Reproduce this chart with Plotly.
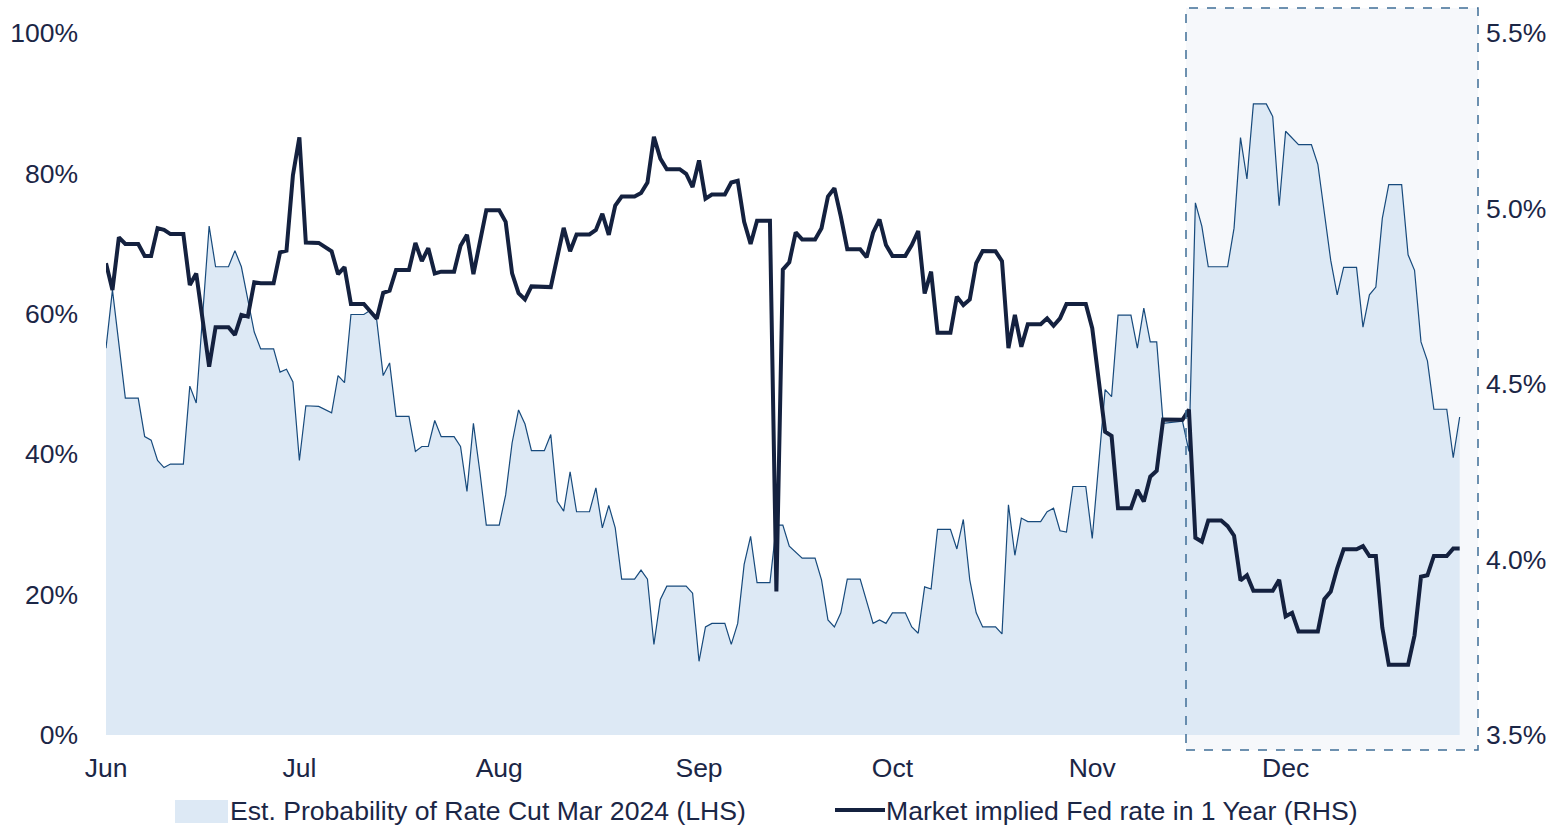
import plotly.graph_objects as go

# Est. probability of a rate cut by March 2024 (left axis, %)
prob_dates = [
    "2023-06-01", "2023-06-02", "2023-06-04", "2023-06-06", "2023-06-07", "2023-06-08", "2023-06-09",
    "2023-06-10", "2023-06-11", "2023-06-13", "2023-06-14", "2023-06-15", "2023-06-17", "2023-06-18",
    "2023-06-20", "2023-06-21", "2023-06-22", "2023-06-24", "2023-06-25", "2023-06-27", "2023-06-28",
    "2023-06-29", "2023-06-30", "2023-07-01", "2023-07-02", "2023-07-04", "2023-07-06", "2023-07-07",
    "2023-07-08", "2023-07-09", "2023-07-11", "2023-07-12", "2023-07-13", "2023-07-14", "2023-07-15",
    "2023-07-16", "2023-07-18", "2023-07-19", "2023-07-20", "2023-07-21", "2023-07-22", "2023-07-23",
    "2023-07-25", "2023-07-26", "2023-07-27", "2023-07-28", "2023-07-29", "2023-07-30", "2023-08-01",
    "2023-08-02", "2023-08-03", "2023-08-04", "2023-08-05", "2023-08-06", "2023-08-08", "2023-08-09",
    "2023-08-10", "2023-08-11", "2023-08-12", "2023-08-13", "2023-08-15", "2023-08-16", "2023-08-17",
    "2023-08-18", "2023-08-19", "2023-08-20", "2023-08-22", "2023-08-23", "2023-08-24", "2023-08-25",
    "2023-08-26", "2023-08-27", "2023-08-30", "2023-08-31", "2023-09-01", "2023-09-02", "2023-09-03",
    "2023-09-05", "2023-09-06", "2023-09-07", "2023-09-08", "2023-09-09", "2023-09-10", "2023-09-12",
    "2023-09-13", "2023-09-14", "2023-09-15", "2023-09-16", "2023-09-17", "2023-09-19", "2023-09-20",
    "2023-09-21", "2023-09-22", "2023-09-23", "2023-09-24", "2023-09-26", "2023-09-27", "2023-09-28",
    "2023-09-29", "2023-09-30", "2023-10-01", "2023-10-03", "2023-10-04", "2023-10-05", "2023-10-06",
    "2023-10-07", "2023-10-08", "2023-10-10", "2023-10-11", "2023-10-12", "2023-10-13", "2023-10-14",
    "2023-10-15", "2023-10-17", "2023-10-18", "2023-10-19", "2023-10-20", "2023-10-21", "2023-10-22",
    "2023-10-24", "2023-10-25", "2023-10-26", "2023-10-27", "2023-10-28", "2023-10-29", "2023-10-31",
    "2023-11-01", "2023-11-03", "2023-11-04", "2023-11-05", "2023-11-07", "2023-11-08", "2023-11-09",
    "2023-11-10", "2023-11-11", "2023-11-12", "2023-11-15", "2023-11-16", "2023-11-17", "2023-11-18",
    "2023-11-19", "2023-11-22", "2023-11-23", "2023-11-24", "2023-11-25", "2023-11-26", "2023-11-28",
    "2023-11-29", "2023-11-30", "2023-12-01", "2023-12-03", "2023-12-05", "2023-12-06", "2023-12-07",
    "2023-12-08", "2023-12-09", "2023-12-10", "2023-12-12", "2023-12-13", "2023-12-14", "2023-12-15",
    "2023-12-16", "2023-12-17", "2023-12-19", "2023-12-20", "2023-12-21", "2023-12-22", "2023-12-23",
    "2023-12-24", "2023-12-26", "2023-12-27", "2023-12-28",
]
prob_values = [
    55.1, 63.4, 48.0, 48.0, 42.5, 42.0, 39.1,
    38.1, 38.6, 38.6, 49.7, 47.3, 72.5, 66.7,
    66.7, 69.0, 66.7, 57.4, 55.0, 55.0, 51.7,
    52.1, 50.3, 39.1, 46.9, 46.8, 45.9, 51.2,
    50.2, 59.9, 59.9, 60.5, 59.1, 51.2, 53.0,
    45.4, 45.4, 40.4, 41.1, 41.1, 44.8, 42.5,
    42.5, 41.1, 34.7, 44.4, 37.5, 29.9, 29.9,
    34.2, 41.6, 46.3, 44.3, 40.5, 40.5, 42.8,
    33.3, 31.9, 37.5, 31.8, 31.8, 35.2, 29.5,
    32.7, 29.5, 22.2, 22.2, 23.5, 22.2, 12.9,
    19.3, 21.2, 21.2, 20.2, 10.5, 15.4, 15.9,
    15.9, 12.9, 15.9, 24.3, 28.3, 21.7, 21.7,
    29.9, 29.9, 26.9, 26.0, 25.2, 25.2, 22.1,
    16.4, 15.4, 17.4, 22.2, 22.2, 19.0, 15.9,
    16.4, 15.9, 17.4, 17.4, 15.4, 14.5, 21.1,
    20.8, 29.3, 29.3, 26.5, 30.7, 22.1, 17.4,
    15.4, 15.4, 14.4, 32.8, 25.6, 30.9, 30.4,
    30.4, 31.8, 32.3, 29.1, 28.9, 35.4, 35.4,
    28.0, 49.2, 48.2, 59.8, 59.8, 55.1, 60.8,
    56.0, 56.0, 44.4, 44.7, 40.4, 75.8, 72.5,
    66.7, 66.7, 72.2, 85.1, 79.2, 89.9, 89.9,
    88.1, 75.4, 86.0, 84.1, 84.1, 81.3, 74.4,
    67.6, 62.7, 66.6, 66.6, 58.1, 62.7, 63.8,
    73.6, 78.4, 78.4, 68.4, 66.2, 56.0, 53.3,
    46.4, 46.4, 39.5, 45.3,
]

# Market implied Fed funds rate in one year (right axis, %)
rate_dates = [
    "2023-06-01", "2023-06-02", "2023-06-03", "2023-06-04", "2023-06-06", "2023-06-07", "2023-06-08",
    "2023-06-09", "2023-06-10", "2023-06-11", "2023-06-13", "2023-06-14", "2023-06-15", "2023-06-17",
    "2023-06-18", "2023-06-20", "2023-06-21", "2023-06-22", "2023-06-23", "2023-06-24", "2023-06-25",
    "2023-06-27", "2023-06-28", "2023-06-29", "2023-06-30", "2023-07-01", "2023-07-02", "2023-07-04",
    "2023-07-06", "2023-07-07", "2023-07-08", "2023-07-09", "2023-07-11", "2023-07-12", "2023-07-13",
    "2023-07-14", "2023-07-15", "2023-07-16", "2023-07-18", "2023-07-19", "2023-07-20", "2023-07-21",
    "2023-07-22", "2023-07-23", "2023-07-25", "2023-07-26", "2023-07-27", "2023-07-28", "2023-07-29",
    "2023-07-30", "2023-08-01", "2023-08-02", "2023-08-03", "2023-08-04", "2023-08-05", "2023-08-06",
    "2023-08-09", "2023-08-10", "2023-08-11", "2023-08-12", "2023-08-13", "2023-08-15", "2023-08-16",
    "2023-08-17", "2023-08-18", "2023-08-19", "2023-08-20", "2023-08-22", "2023-08-23", "2023-08-24",
    "2023-08-25", "2023-08-26", "2023-08-27", "2023-08-29", "2023-08-30", "2023-08-31", "2023-09-01",
    "2023-09-02", "2023-09-03", "2023-09-05", "2023-09-06", "2023-09-07", "2023-09-08", "2023-09-09",
    "2023-09-10", "2023-09-12", "2023-09-13", "2023-09-14", "2023-09-15", "2023-09-16", "2023-09-17",
    "2023-09-19", "2023-09-20", "2023-09-21", "2023-09-22", "2023-09-23", "2023-09-24", "2023-09-26",
    "2023-09-27", "2023-09-28", "2023-09-29", "2023-09-30", "2023-10-01", "2023-10-03", "2023-10-04",
    "2023-10-05", "2023-10-06", "2023-10-07", "2023-10-08", "2023-10-10", "2023-10-11", "2023-10-12",
    "2023-10-13", "2023-10-14", "2023-10-15", "2023-10-17", "2023-10-18", "2023-10-19", "2023-10-20",
    "2023-10-21", "2023-10-22", "2023-10-24", "2023-10-25", "2023-10-26", "2023-10-27", "2023-10-28",
    "2023-10-31", "2023-11-01", "2023-11-03", "2023-11-04", "2023-11-05", "2023-11-07", "2023-11-08",
    "2023-11-09", "2023-11-10", "2023-11-11", "2023-11-12", "2023-11-15", "2023-11-16", "2023-11-17",
    "2023-11-18", "2023-11-19", "2023-11-21", "2023-11-22", "2023-11-23", "2023-11-24", "2023-11-25",
    "2023-11-26", "2023-11-29", "2023-11-30", "2023-12-01", "2023-12-02", "2023-12-03", "2023-12-06",
    "2023-12-07", "2023-12-08", "2023-12-09", "2023-12-10", "2023-12-12", "2023-12-13", "2023-12-14",
    "2023-12-15", "2023-12-16", "2023-12-17", "2023-12-20", "2023-12-21", "2023-12-22", "2023-12-23",
    "2023-12-24", "2023-12-26", "2023-12-27", "2023-12-28",
]
rate_values = [
    4.844, 4.768, 4.918, 4.899, 4.899, 4.865, 4.865,
    4.944, 4.939, 4.927, 4.927, 4.782, 4.815, 4.549,
    4.662, 4.662, 4.640, 4.697, 4.692, 4.790, 4.787,
    4.787, 4.875, 4.880, 5.095, 5.203, 4.903, 4.902,
    4.878, 4.813, 4.833, 4.728, 4.728, 4.708, 4.686,
    4.760, 4.766, 4.825, 4.825, 4.902, 4.850, 4.887,
    4.815, 4.820, 4.820, 4.894, 4.925, 4.813, 4.901,
    4.995, 4.995, 4.962, 4.815, 4.759, 4.741, 4.778,
    4.776, 4.860, 4.945, 4.878, 4.926, 4.926, 4.939,
    4.985, 4.925, 5.008, 5.034, 5.034, 5.044, 5.074,
    5.204, 5.142, 5.112, 5.112, 5.099, 5.061, 5.137,
    5.028, 5.040, 5.040, 5.074, 5.079, 4.962, 4.899,
    4.965, 4.965, 3.909, 4.826, 4.847, 4.932, 4.912,
    4.912, 4.944, 5.034, 5.058, 4.977, 4.884, 4.884,
    4.861, 4.931, 4.969, 4.896, 4.865, 4.865, 4.896,
    4.936, 4.758, 4.820, 4.646, 4.646, 4.749, 4.725,
    4.741, 4.844, 4.879, 4.878, 4.850, 4.602, 4.697,
    4.606, 4.670, 4.670, 4.687, 4.666, 4.687, 4.728,
    4.728, 4.659, 4.364, 4.352, 4.146, 4.146, 4.198,
    4.165, 4.236, 4.253, 4.399, 4.398, 4.427, 4.062,
    4.051, 4.111, 4.111, 4.095, 4.068, 3.940, 3.955,
    3.911, 3.911, 3.942, 3.838, 3.848, 3.795, 3.795,
    3.887, 3.909, 3.975, 4.029, 4.029, 4.038, 4.010,
    4.010, 3.806, 3.700, 3.700, 3.784, 3.951, 3.955,
    4.010, 4.010, 4.031, 4.031,
]

assert len(prob_dates) == len(prob_values)
assert len(rate_dates) == len(rate_values)

prob_ticks = [0, 20, 40, 60, 80, 100]
prob_tick_labels = ["0%", "20%", "40%", "60%", "80%", "100%"]
rate_ticks = [3.5, 4.0, 4.5, 5.0, 5.5]
rate_tick_labels = ["3.5%", "4.0%", "4.5%", "5.0%", "5.5%"]
month_ticks = ["2023-06-01", "2023-07-01", "2023-08-01", "2023-09-01",
               "2023-10-01", "2023-11-01", "2023-12-01"]
month_labels = ["Jun", "Jul", "Aug", "Sep", "Oct", "Nov", "Dec"]

prob_name = "Est. Probability of Rate Cut Mar 2024 (LHS)"
rate_name = "Market implied Fed rate in 1 Year (RHS)"

FONT = "Liberation Sans, Arial, sans-serif"
TEXT = "#1b2646"
NAVY = "#14213f"
AREA_FILL = "#dde9f5"
AREA_LINE = "#174a7c"
TICK_SIZE = 26.5
LEGEND_SIZE = 26.6

fig = go.Figure()
fig.add_trace(go.Scatter(
    x=prob_dates, y=prob_values, name=prob_name, mode="lines",
    line=dict(color=AREA_LINE, width=1.2), fill="tozeroy", fillcolor=AREA_FILL,
    yaxis="y", showlegend=False,
))
fig.add_trace(go.Scatter(
    x=rate_dates, y=rate_values, name=rate_name, mode="lines",
    line=dict(color=NAVY, width=4), yaxis="y2", showlegend=False,
))

# plot-area geometry in pixels (used for the highlight box and legend)
W, H = 1557, 827
L, R, T, B = 106, 78, 33, 92
PW, PH = W - L - R, H - T - B


def px_x(px):
    return (px - L) / PW


def px_y(py):
    return (H - B - py) / PH


shapes = [
    # shaded recent period
    dict(type="rect", xref="paper", yref="paper",
         x0=px_x(1186), x1=px_x(1478), y0=px_y(750), y1=px_y(8),
         fillcolor="#f6f8fb", line=dict(width=0), layer="below"),
    dict(type="rect", xref="paper", yref="paper",
         x0=px_x(1186), x1=px_x(1478), y0=px_y(750), y1=px_y(8),
         fillcolor="rgba(0,0,0,0)", line=dict(color="#3f6d96", width=1.5, dash="dash"),
         layer="above"),
    # legend keys
    dict(type="rect", xref="paper", yref="paper",
         x0=px_x(175), x1=px_x(228), y0=px_y(823), y1=px_y(800),
         fillcolor=AREA_FILL, line=dict(width=0)),
    dict(type="line", xref="paper", yref="paper",
         x0=px_x(835), x1=px_x(885), y0=px_y(810), y1=px_y(810),
         line=dict(color=NAVY, width=4)),
]

annotations = [
    dict(text=prob_name, xref="paper", yref="paper", x=px_x(228), y=px_y(811),
         xanchor="left", yanchor="middle", showarrow=False,
         font=dict(size=LEGEND_SIZE, color=TEXT, family=FONT)),
    dict(text=rate_name, xref="paper", yref="paper", x=px_x(884), y=px_y(811),
         xanchor="left", yanchor="middle", showarrow=False,
         font=dict(size=LEGEND_SIZE, color=TEXT, family=FONT)),
]

fig.update_layout(
    width=W, height=H,
    margin=dict(l=L, r=R, t=T, b=B, pad=0, autoexpand=False),
    paper_bgcolor="white", plot_bgcolor="rgba(0,0,0,0)",
    font=dict(family=FONT, size=TICK_SIZE, color=TEXT),
    showlegend=False,
    shapes=shapes,
    annotations=annotations,
    xaxis=dict(
        type="date", range=["2023-06-01", "2023-12-31"],
        tickvals=month_ticks, ticktext=month_labels,
        showgrid=False, zeroline=False, showline=False, ticks="",
        ticklabelstandoff=14, automargin=False,
        tickfont=dict(size=TICK_SIZE, color=TEXT),
    ),
    yaxis=dict(
        range=[0, 100], tickvals=prob_ticks, ticktext=prob_tick_labels,
        showgrid=False, zeroline=False, showline=False, ticks="",
        ticklabelstandoff=27, automargin=False,
        tickfont=dict(size=TICK_SIZE, color=TEXT),
    ),
    yaxis2=dict(
        range=[3.5, 5.5], tickvals=rate_ticks, ticktext=rate_tick_labels,
        overlaying="y", side="right",
        showgrid=False, zeroline=False, showline=False, ticks="",
        ticklabelstandoff=6, automargin=False,
        tickfont=dict(size=TICK_SIZE, color=TEXT),
    ),
)

fig.write_html("out.html")
